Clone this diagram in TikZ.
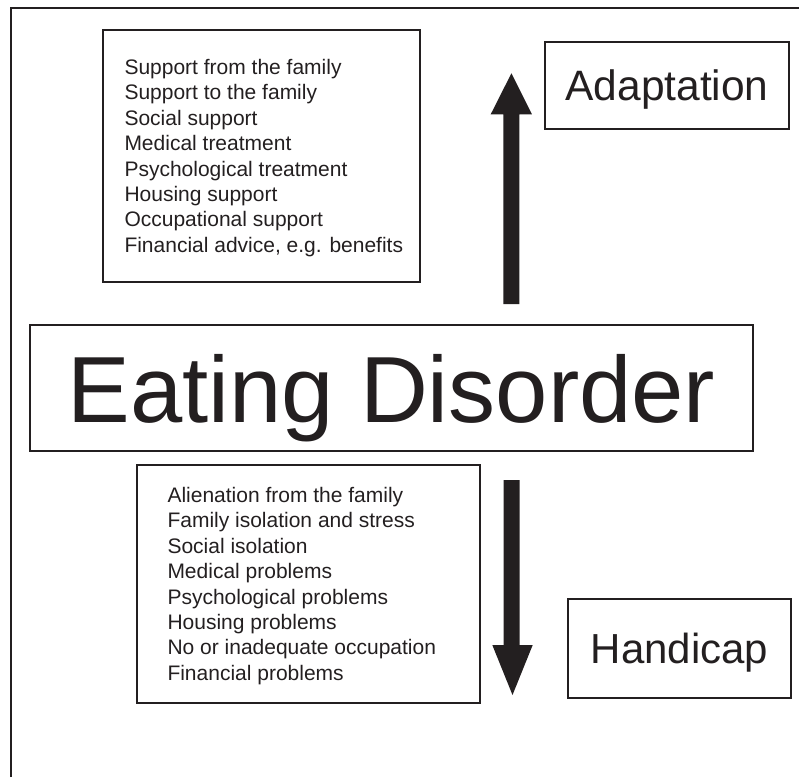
\documentclass[tikz,border=0pt]{standalone}
\usepackage{fontspec}
\setmainfont{Liberation Sans}
\definecolor{ink}{RGB}{35,31,32}
\begin{document}
\begin{tikzpicture}[x=1pt,y=-1pt,
  box/.style={draw=ink,line width=1.4pt,text=ink,inner sep=0pt},
  listtext/.style={text=ink,inner sep=0pt,align=left,anchor=west,font=\fontsize{21}{25.4}\selectfont},
  bigarrow/.style={fill=ink,draw=none}]
\useasboundingbox (0,0) rectangle (799,777);
% outer frame (top and left sides only)
\coordinate (fbl) at (10.7,777);
\coordinate (ftl) at (10.7,7.5);
\coordinate (ftr) at (799,7.5);
\draw[ink,line width=2pt] (fbl) -- (ftl) -- (ftr);

% upper list
\node[box,minimum width=317,minimum height=252] (support) at (261.5,156) {};
\node[listtext] (supporttext) at ([xshift=22pt,yshift=-2pt]support.west)
{Support from the family\\Support to the family\\Social support\\Medical treatment\\Psychological treatment\\Housing support\\Occupational support\\Financial advice, e.g. benefits};

% lower list
\node[box,minimum width=343,minimum height=238] (problems) at (308.5,584) {};
\node[listtext] (problemstext) at ([xshift=31pt,yshift=-2pt]problems.west)
{Alienation from the family\\Family isolation and stress\\Social isolation\\Medical problems\\Psychological problems\\Housing problems\\No or inadequate occupation\\Financial problems};

% central box
\node[box,minimum width=723,minimum height=126,text depth=0pt,font=\fontsize{94}{100}\selectfont] (ed) at (391.5,388) {Eating Disorder};

% adaptation / handicap
\node[box,minimum width=244,minimum height=87,text depth=0pt,font=\fontsize{42.5}{50}\selectfont] (adapt) at (667,85.5) {Adaptation};
\node[box,minimum width=223,minimum height=99,text depth=0pt,font=\fontsize{42}{50}\selectfont] (handi) at (679.5,648.5) {Handicap};

% up arrow
\coordinate (ua1) at (503.3,304);
\coordinate (ua2) at (503.3,114.3);
\coordinate (ua3) at (490.7,114.3);
\coordinate (uatip) at (511.4,73.3);
\coordinate (ua5) at (531.9,114.3);
\coordinate (ua6) at (519.3,114.3);
\coordinate (ua7) at (519.3,304);
\fill[bigarrow] (ua1) -- (ua2) -- (ua3) -- (uatip) -- (ua5) -- (ua6) -- (ua7) -- cycle;

% down arrow
\coordinate (da1) at (503.5,480);
\coordinate (da2) at (503.5,645);
\coordinate (da3) at (492.3,645);
\coordinate (datip) at (512.5,695);
\coordinate (da5) at (532.7,645);
\coordinate (da6) at (519.5,645);
\coordinate (da7) at (519.5,480);
\fill[bigarrow] (da1) -- (da2) -- (da3) -- (datip) -- (da5) -- (da6) -- (da7) -- cycle;
\end{tikzpicture}
\end{document}
